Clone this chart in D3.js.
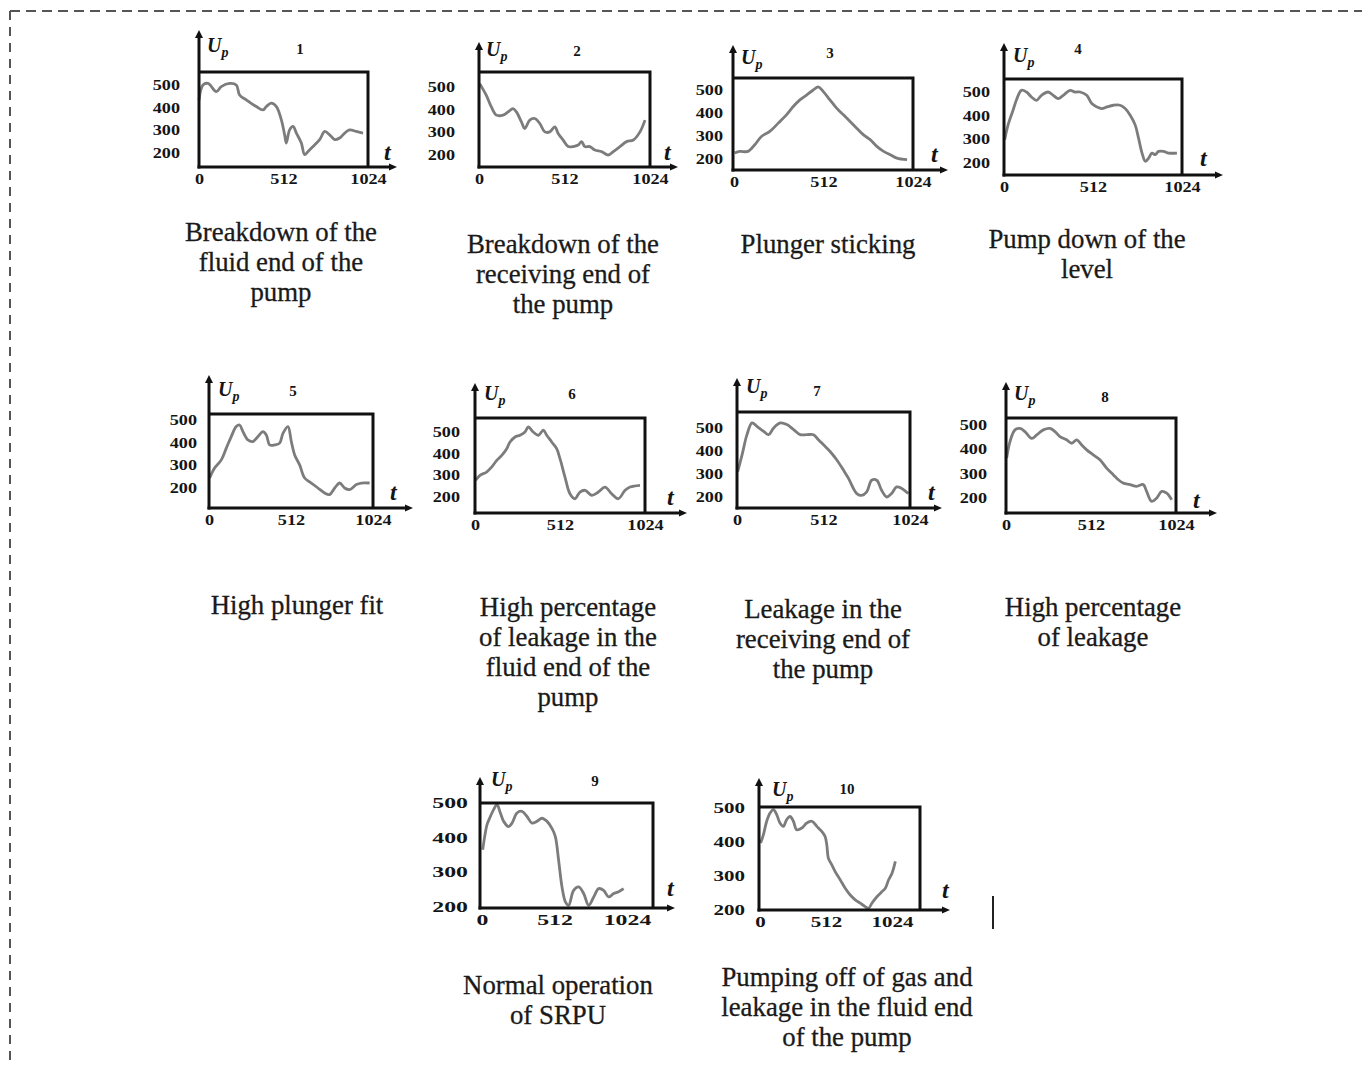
<!DOCTYPE html>
<html>
<head>
<meta charset="utf-8">
<script src="https://cdn.jsdelivr.net/npm/d3@7"></script>
<style>
body { margin: 0; background: #fff; }
svg { display: block; }
</style>
</head>
<body>
<svg id="fig" width="1362" height="1066"></svg>
<script>
// curves, [t, Up]
const curve1 = [[0,434],[24,500],[55,507],[105,471],[135,493],[186,507],[226,500],[246,456],[287,434],[347,405],[388,390],[408,405],[438,420],[469,405],[499,346],[519,280],[529,244],[549,302],[570,317],[590,288],[620,244],[640,193],[661,207],[691,229],[731,259],[762,295],[792,280],[822,259],[852,266],[883,288],[913,302],[953,295],[994,288]]
const curve2 = [[4,515],[44,463],[74,412],[104,376],[144,376],[174,390],[204,405],[224,390],[254,346],[274,317],[304,354],[334,361],[364,339],[394,302],[424,302],[454,324],[474,295],[504,266],[534,237],[564,237],[594,244],[614,259],[634,237],[664,237],[694,222],[734,215],[774,200],[804,215],[844,237],[884,259],[924,266],[964,302],[994,354]]
const curve3 = [[4,226],[33,233],[80,233],[119,262],[157,298],[205,320],[253,356],[300,392],[339,428],[377,457],[415,478],[453,500],[482,514],[511,493],[549,457],[587,421],[626,392],[664,363],[702,334],[741,305],[779,284],[817,255],[856,233],[894,219],[932,204],[990,197]]
const curve4 = [[4,298],[23,360],[52,423],[71,465],[100,507],[129,500],[158,479],[187,465],[216,486],[254,500],[283,486],[312,472],[341,486],[380,507],[409,500],[438,500],[476,486],[505,451],[534,437],[563,430],[592,437],[630,444],[668,444],[697,430],[726,402],[755,360],[774,305],[794,242],[813,207],[832,221],[851,242],[870,235],[889,249],[918,249],[947,242],[995,242]]
const curve5 = [[4,244],[35,288],[77,324],[108,376],[139,427],[170,471],[191,478],[212,449],[243,412],[274,405],[306,427],[337,449],[358,434],[379,390],[410,390],[441,398],[462,441],[493,471],[514,405],[535,346],[566,302],[597,244],[639,222],[680,200],[722,178],[753,171],[785,200],[816,222],[847,200],[878,193],[920,215],[951,222],[1003,222]]
const curve6 = [[4,277],[30,300],[70,315],[100,338],[131,369],[161,392],[191,423],[211,454],[241,477],[271,485],[301,500],[321,523],[351,500],[382,485],[412,508],[432,485],[462,454],[492,423],[512,377],[542,292],[572,215],[602,192],[632,223],[663,231],[703,208],[743,223],[783,246],[823,215],[863,192],[904,231],[934,246],[994,254]]
const curve7 = [[4,310],[30,383],[59,471],[89,522],[118,507],[158,485],[187,471],[217,500],[256,522],[295,515],[335,493],[374,471],[413,471],[453,471],[482,449],[512,427],[551,398],[591,361],[630,317],[660,281],[689,237],[709,215],[738,207],[768,222],[797,273],[827,273],[856,229],[886,200],[915,215],[945,244],[975,237],[1014,215]]
const curve8 = [[4,364],[24,432],[54,480],[84,486],[114,473],[155,445],[185,459],[225,480],[265,486],[295,473],[325,452],[365,439],[396,425],[426,439],[456,418],[486,398],[526,377],[566,357],[606,323],[647,295],[677,275],[707,261],[747,255],[787,248],[827,255],[847,227],[877,186],[908,200],[938,227],[968,220],[998,193]]
const curve9 = [[5,365],[19,403],[35,437],[59,461],[82,481],[106,495],[130,471],[153,447],[188,432],[212,442],[247,471],[282,476],[318,461],[353,442],[388,447],[424,456],[459,447],[494,427],[518,403],[541,335],[565,258],[589,215],[612,205],[647,248],[683,258],[718,239],[753,205],[789,229],[824,253],[859,248],[894,229],[930,239],[965,244],[1000,253]]
const curve10 = [[5,397],[26,421],[52,461],[78,485],[104,495],[130,480],[155,456],[181,446],[207,466],[233,475],[259,461],[285,436],[324,441],[363,456],[402,461],[441,446],[479,431],[505,416],[518,392],[531,352],[557,333],[583,313],[622,289],[661,264],[700,244],[739,230],[778,220],[816,210],[842,205],[868,220],[907,239],[946,254],[972,264],[998,289],[1024,308],[1050,343]]

const curves = [curve1, curve2, curve3, curve4, curve5, curve6, curve7, curve8, curve9, curve10]
const panelNames = ["1", "2", "3", "4", "5", "6", "7", "8", "9", "10"]
const yTicks = [200, 300, 400, 500]
const xTicks = [0, 512, 1024]
const captions = [
    ["Breakdown of the", "fluid end of the", "pump"],
    ["Breakdown of the", "receiving end of", "the pump"],
    ["Plunger sticking"],
    ["Pump down of the", "level"],
    ["High plunger fit"],
    ["High percentage", "of leakage in the", "fluid end of the", "pump"],
    ["Leakage in the", "receiving end of", "the pump"],
    ["High percentage", "of leakage"],
    ["Normal operation", "of SRPU"],
    ["Pumping off of gas and", "leakage in the fluid end", "of the pump"]
]

// where each small plot sits on the page (px)
const layout = [
    {ax:199, x0:199, x1:368, right:368, top:72, bottom:167, y500:85, y200:153, arrowTop:30, arrowRight:397, gap:19, sx:1.3, up:[207,52], num:[300,54], t:[384,160], cap:[281,233]},
    {ax:479, x0:479, x1:650, right:650, top:72, bottom:167, y500:87, y200:155, arrowTop:42, arrowRight:678, gap:24, sx:1.3, up:[486,56], num:[577,56], t:[664,160], cap:[563,245]},
    {ax:733, x0:734, x1:913, right:913, top:78, bottom:170, y500:90, y200:159, arrowTop:45, arrowRight:948, gap:10, sx:1.3, up:[741,64], num:[830,58], t:[931,162], cap:[828,245]},
    {ax:1004, x0:1004, x1:1182, right:1182, top:79, bottom:175, y500:92, y200:163, arrowTop:43, arrowRight:1223, gap:14, sx:1.3, up:[1013,62], num:[1078,54], t:[1200,166], cap:[1087,240]},
    {ax:209, x0:209, x1:373, right:373, top:414, bottom:508, y500:420, y200:488, arrowTop:375, arrowRight:413, gap:12, sx:1.3, up:[218,396], num:[293,396], t:[390,500], cap:[297,606]},
    {ax:475, x0:475, x1:645, right:645, top:418, bottom:513, y500:432, y200:497, arrowTop:383, arrowRight:687, gap:15, sx:1.3, up:[484,400], num:[572,399], t:[667,505], cap:[568,608]},
    {ax:737, x0:737, x1:910, right:910, top:412, bottom:508, y500:428, y200:497, arrowTop:378, arrowRight:942, gap:14, sx:1.3, up:[746,393], num:[817,396], t:[928,500], cap:[823,610]},
    {ax:1006, x0:1006, x1:1176, right:1176, top:418, bottom:513, y500:425, y200:498, arrowTop:382, arrowRight:1217, gap:19, sx:1.3, up:[1014,400], num:[1105,402], t:[1193,508], cap:[1093,608]},
    {ax:480, x0:482, x1:627, right:653, top:803, bottom:908, y500:803, y200:907, arrowTop:777, arrowRight:675, gap:12, sx:1.7, up:[491,786], num:[595,786], t:[667,896], cap:[558,986]},
    {ax:759, x0:760, x1:892, right:920, top:807, bottom:910, y500:808, y200:910, arrowTop:778, arrowRight:950, gap:14, sx:1.5, up:[772,796], num:[847,794], t:[942,898], cap:[847,978]}
]

const svg = d3.select("#fig")
const serif = "'Liberation Serif', 'Times New Roman', serif"

// dashed frame, only top and left edges are visible
svg.append("line")
    .attr("x1", 10).attr("y1", 11).attr("x2", 1362).attr("y2", 11)
    .attr("stroke", "#555").attr("stroke-width", 2).attr("stroke-dasharray", "10,6")
svg.append("line")
    .attr("x1", 10).attr("y1", 11).attr("x2", 10).attr("y2", 1066)
    .attr("stroke", "#555").attr("stroke-width", 2).attr("stroke-dasharray", "9,7")

curves.forEach((data, i) => {
    const L = layout[i]
    const g = svg.append("g").attr("class", `panel p${i + 1}`)

    const x = d3.scaleLinear().domain([0, 1024]).range([L.x0, L.x1])
    const y = d3.scaleLinear().domain([200, 500]).range([L.y200, L.y500])

    // curve first, frame drawn over it
    const line = d3.line()
        .x(d => x(d[0]))
        .y(d => y(d[1]))
        .curve(d3.curveCatmullRom.alpha(0.5))

    g.append("path")
        .datum(data)
        .attr("d", line)
        .attr("fill", "none")
        .attr("stroke", "#7c7c7c")
        .attr("stroke-width", 2.8)
        .attr("stroke-linejoin", "round")

    const ink = "#111"
    // y axis with arrow
    g.append("line")
        .attr("x1", L.ax).attr("x2", L.ax)
        .attr("y1", L.bottom + 1.5).attr("y2", L.arrowTop + 5)
        .attr("stroke", ink).attr("stroke-width", 3)
    g.append("path")
        .attr("d", `M${L.ax - 4},${L.arrowTop + 8} L${L.ax},${L.arrowTop} L${L.ax + 4},${L.arrowTop + 8} Z`)
        .attr("fill", ink)
    // x axis with arrow
    g.append("line")
        .attr("x1", L.ax - 1.5).attr("x2", L.arrowRight - 5)
        .attr("y1", L.bottom).attr("y2", L.bottom)
        .attr("stroke", ink).attr("stroke-width", 3)
    g.append("path")
        .attr("d", `M${L.arrowRight - 8},${L.bottom - 3.5} L${L.arrowRight},${L.bottom} L${L.arrowRight - 8},${L.bottom + 3.5} Z`)
        .attr("fill", ink)
    // box top and right
    g.append("path")
        .attr("d", `M${L.ax},${L.top} H${L.right} V${L.bottom}`)
        .attr("fill", "none")
        .attr("stroke", ink).attr("stroke-width", 3)

    // tick labels
    const yAxis = g.append("g")
        .attr("transform", `translate(${L.ax},0)`)
        .call(d3.axisLeft(y).tickValues(yTicks).tickFormat(d3.format("d")).tickSize(0).tickPadding(L.gap / L.sx))
    const xAxis = g.append("g")
        .attr("transform", `translate(0,${L.bottom})`)
        .call(d3.axisBottom(x).tickValues(xTicks).tickFormat(d3.format("d")).tickSize(0).tickPadding(7))
    for (const a of [yAxis, xAxis]) {
        a.select(".domain").remove()
        a.selectAll("text")
            .attr("transform", `scale(${L.sx},1)`)
            .style("font-family", serif)
            .style("font-weight", "bold")
            .style("font-size", "14px")
            .style("fill", "#151515")
    }

    // U_p label
    const up = g.append("text")
        .attr("x", L.up[0]).attr("y", L.up[1])
        .style("font-family", serif)
        .style("font-style", "italic")
        .style("font-weight", "bold")
        .style("fill", "#151515")
    up.append("tspan").style("font-size", "20px").text("U")
    up.append("tspan").style("font-size", "14px").attr("dy", 5).text("p")

    g.append("text")
        .attr("x", L.num[0]).attr("y", L.num[1])
        .attr("text-anchor", "middle")
        .style("font-family", serif)
        .style("font-weight", "bold")
        .style("font-size", "15px")
        .style("fill", "#151515")
        .text(panelNames[i])

    g.append("text")
        .attr("x", L.t[0]).attr("y", L.t[1])
        .style("font-family", serif)
        .style("font-style", "italic")
        .style("font-weight", "bold")
        .style("font-size", "24px")
        .style("fill", "#151515")
        .text("t")

    // caption under the plot
    g.append("g").selectAll("text")
        .data(captions[i])
        .join("text")
        .attr("x", L.cap[0])
        .attr("y", (d, k) => L.cap[1] + 8 + k * 30)
        .attr("text-anchor", "middle")
        .style("font-family", serif)
        .style("font-size", "26.8px")
        .style("fill", "#1a1a1a")
        .style("stroke", "#1a1a1a")
        .style("stroke-width", 0.3)
        .text(d => d)
})

// stray mark right of plot 10
svg.append("line")
    .attr("x1", 993).attr("x2", 993).attr("y1", 896).attr("y2", 929)
    .attr("stroke", "#222").attr("stroke-width", 2)
</script>
</body>
</html>
